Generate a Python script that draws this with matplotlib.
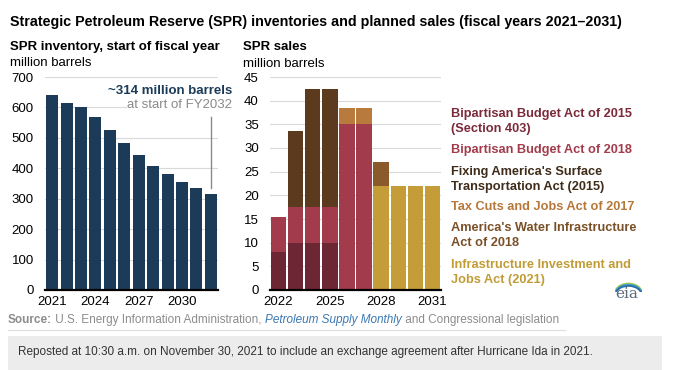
import matplotlib

matplotlib.use("Agg")
import matplotlib.pyplot as plt
import numpy as np
from matplotlib.patches import Rectangle, Arc

plt.rcParams["font.family"] = ["Liberation Sans", "DejaVu Sans"]

# ---- data ----
inv_years = list(range(2021, 2033))
inventory = [642, 616, 600, 567, 525, 482, 444, 406, 380, 356, 335, 314]

sale_years = list(range(2022, 2032))
bba2015 = [8, 10, 10, 10, 0, 0, 0, 0, 0, 0]
bba2018 = [7.5, 7.5, 7.5, 7.5, 35, 35, 0, 0, 0, 0]
fast = [0, 16, 25, 25, 0, 0, 0, 0, 0, 0]
tcja = [0, 0, 0, 0, 3.5, 3.5, 0, 0, 0, 0]
awia = [0, 0, 0, 0, 0, 0, 5, 0, 0, 0]
iija = [0, 0, 0, 0, 0, 0, 22, 22, 22, 22]

# legend order (top to bottom of the label column)
series = [
    ("Bipartisan Budget Act of 2015\n(Section 403)", bba2015, "#6d2634", "#7a2a3a"),
    ("Bipartisan Budget Act of 2018", bba2018, "#a23b4b", "#a23b4b"),
    ("Fixing America's Surface\nTransportation Act (2015)", fast, "#5b3a1e", "#3f2c1a"),
    ("Tax Cuts and Jobs Act of 2017", tcja, "#b97a3e", "#b5783a"),
    ("America's Water Infrastructure\nAct of 2018", awia, "#8b5a2b", "#7a5028"),
    ("Infrastructure Investment and\nJobs Act (2021)", iija, "#c49c38", "#c19c36"),
]
# stacking order, bottom first
stack_order = [0, 1, 5, 2, 3, 4]

NAVY = "#1b3b58"
GRID = "#d9d9d9"
GREY = "#8c8c8c"

W, H = 680, 370
fig = plt.figure(figsize=(W / 100, H / 100), dpi=100)


def fx(px):
    return px / W


def fy(py):
    return 1 - py / H


def style_axes(ax):
    for s in ["top", "right", "left"]:
        ax.spines[s].set_visible(False)
    ax.spines["bottom"].set_color("black")
    ax.spines["bottom"].set_linewidth(1.6)
    ax.grid(axis="y", color=GRID, lw=0.8)
    ax.set_axisbelow(True)
    ax.tick_params(length=0, labelsize=9.5, colors="black")
    ax.tick_params(axis="y", pad=8)
    ax.tick_params(axis="x", pad=4)


# ---- left panel: inventory ----
ax1 = fig.add_axes([fx(45), fy(290), fx(173), (290 - 77) / H])
ax1.bar(inv_years, inventory, width=0.83, color=NAVY, zorder=2)
ax1.set_xlim(2020.5, 2032.5)
ax1.set_ylim(0, 700)
ax1.set_yticks(range(0, 701, 100))
ax1.set_xticks([2021, 2024, 2027, 2030])
style_axes(ax1)

ax1.plot([2032, 2032], [335, 568], color="#8a8a8a", lw=1.0, zorder=3)
ax1.text(2033.5, 655, "~314 million barrels", ha="right", va="center",
         fontsize=9.5, fontweight="bold", color=NAVY, zorder=4, clip_on=False,
         bbox=dict(fc="white", ec="none", pad=0.5))
ax1.text(2033.5, 607, "at start of FY2032", ha="right", va="center",
         fontsize=9.5, color="#8a8a8a", zorder=4, clip_on=False,
         bbox=dict(fc="white", ec="none", pad=0.5))

# ---- right panel: sales ----
ax2 = fig.add_axes([fx(270), fy(290), fx(171), (290 - 77) / H])
bottom = np.zeros(len(sale_years))
for i in stack_order:
    label, vals, col, _ = series[i]
    ax2.bar(sale_years, vals, width=0.9, bottom=bottom, color=col, zorder=2)
    bottom += np.array(vals)
ax2.set_xlim(2021.5, 2031.5)
ax2.set_ylim(0, 45)
ax2.set_yticks(range(0, 46, 5))
ax2.set_xticks([2022, 2025, 2028, 2031])
style_axes(ax2)

# legend as coloured labels, one text per line
legend_y = [114, 150, 172, 207, 228, 265]
LINE_GAP = 15
for (label, _, _, tcol), ly in zip(series, legend_y):
    for k, line in enumerate(label.split("\n")):
        fig.text(fx(451), fy(ly + k * LINE_GAP), line, ha="left", va="center",
                 fontsize=9.2, fontweight="bold", color=tcol)

# ---- titles ----
fig.text(fx(10), fy(22), "Strategic Petroleum Reserve (SPR) inventories and planned sales "
         "(fiscal years 2021\u20132031)", ha="left", va="center", fontsize=10.3,
         fontweight="bold", color="black")
fig.text(fx(10), fy(47), "SPR inventory, start of fiscal year", ha="left",
         va="center", fontsize=9.5, fontweight="bold")
fig.text(fx(10), fy(63), "million barrels", ha="left", va="center", fontsize=9.5)
fig.text(fx(243), fy(47), "SPR sales", ha="left", va="center", fontsize=9.5,
         fontweight="bold")
fig.text(fx(243), fy(64), "million barrels", ha="left", va="center", fontsize=9.5)

# ---- source line (mixed styles) ----
fig.canvas.draw()
renderer = fig.canvas.get_renderer()
x = fx(8)
ys = fy(320)
pieces = [
    ("Source:", dict(fontweight="bold", color=GREY)),
    (" U.S. Energy Information Administration, ", dict(color=GREY)),
    ("Petroleum Supply Monthly", dict(style="italic", color="#3a78b5")),
    (" and Congressional legislation", dict(color=GREY)),
]
for txt, kw in pieces:
    t = fig.text(x, ys, txt, ha="left", va="center", fontsize=8.5, **kw)
    bb = t.get_window_extent(renderer)
    x += bb.width / W
fig.add_artist(plt.Line2D([fx(8), fx(565)], [fy(330), fy(330)], color="#dddddd", lw=0.8))

# note box
fig.add_artist(Rectangle((fx(8), fy(370)), fx(654), (370 - 336) / H,
                         transform=fig.transFigure, fc="#ececec", ec="none"))
fig.text(fx(18), fy(352), "Reposted at 10:30 a.m. on November 30, 2021 to include an "
         "exchange agreement after Hurricane Ida in 2021.", ha="left", va="center",
         fontsize=8.5, color="#333333")

# eia logo
fig.text(fx(627), fy(294), "eia", ha="center", va="center", fontsize=11,
         family="DejaVu Serif", color="#5a6a7a")
logo_ax = fig.add_axes([fx(612), fy(292), fx(30), 14 / H])
logo_ax.set_axis_off()
logo_ax.set_xlim(0, 1)
logo_ax.set_ylim(0, 1)
for i, c in enumerate(["#a8c64a", "#3fa7c9", "#2a6fa8"]):
    logo_ax.add_patch(Arc((0.55, -0.1 - i * 0.08), 0.9, 1.4, theta1=20, theta2=150,
                          color=c, lw=1.4))

fig.savefig("out.png", dpi=100)
